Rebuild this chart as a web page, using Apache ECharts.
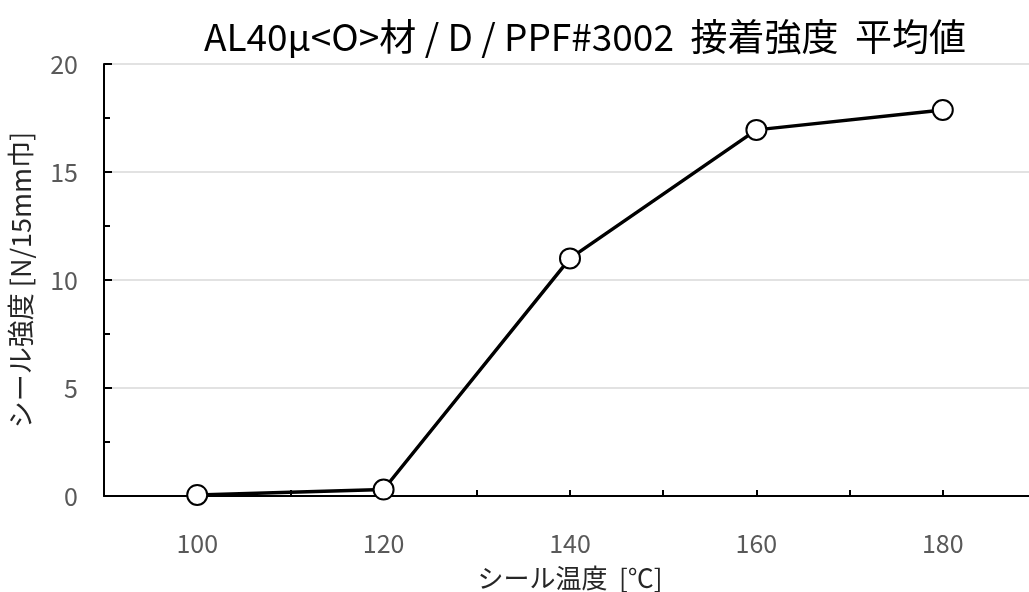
<!DOCTYPE html>
<html><head><meta charset="utf-8">
<script src="https://cdn.jsdelivr.net/npm/echarts@6/dist/echarts.min.js"></script>
<style>html,body{margin:0;padding:0;background:#fff}#c{width:1029px;height:592px}</style>
</head><body><div id="c"></div>
<script>
const temperatures = [100, 120, 140, 160, 180];
const strengths = [0.05, 0.3, 11.0, 16.95, 17.87];
const titleText = 'AL40μ<O>材 / D / PPF#3002  接着強度  平均値';
const xName = 'シール温度  [℃]';
const yName = 'シール強度 [N/15mm巾]';
const FONT = '"Noto Sans CJK JP", "Noto Sans", sans-serif';

const chart = echarts.init(document.getElementById('c'));
chart.setOption({
  animation: false,
  backgroundColor: '#fff',
  title: {
    text: titleText, left: 580, top: 13, textAlign: 'center',
    textStyle: { fontFamily: FONT, fontSize: 37, fontWeight: 'normal', color: '#000' }
  },
  grid: { left: 104, width: 932, top: 64, height: 432, outerBoundsMode: 'none', containLabel: false },
  xAxis: {
    type: 'value', min: 90, max: 190, interval: 10,
    name: xName, nameLocation: 'middle', nameGap: 69,
    nameTextStyle: { fontFamily: FONT, fontSize: 26, color: '#262626' },
    axisLine: { show: true, lineStyle: { color: '#000', width: 2 } },
    axisTick: { show: true, inside: true, length: 6, lineStyle: { color: '#000', width: 2 } },
    axisLabel: {
      margin: 35, fontFamily: FONT, fontSize: 25, color: '#595959',
      formatter: v => (v % 20 === 0 && v >= 100 && v <= 180) ? String(v) : ''
    },
    splitLine: { show: false }
  },
  yAxis: {
    type: 'value', min: 0, max: 20, interval: 5,
    name: yName, nameLocation: 'middle', nameGap: 70, nameRotate: 90,
    nameTextStyle: { fontFamily: FONT, fontSize: 27, color: '#262626' },
    axisLine: { show: true, lineStyle: { color: '#000', width: 2 } },
    axisTick: { show: true, inside: true, length: 8, lineStyle: { color: '#000', width: 2 } },
    minorTick: { show: true, splitNumber: 2, length: 6, lineStyle: { color: '#000', width: 2 } },
    minorSplitLine: { show: false },
    axisLabel: { margin: 26, fontFamily: FONT, fontSize: 25, color: '#595959' },
    splitLine: { show: true, lineStyle: { color: '#d9d9d9', width: 1.5 } }
  },
  series: [{
    type: 'line',
    data: temperatures.map((t, i) => [t, strengths[i]]),
    lineStyle: { color: '#000', width: 3.5 },
    symbol: 'circle', symbolSize: 20,
    itemStyle: { color: '#fff', borderColor: '#000', borderWidth: 2 },
    z: 5
  }]
});
</script></body></html>
